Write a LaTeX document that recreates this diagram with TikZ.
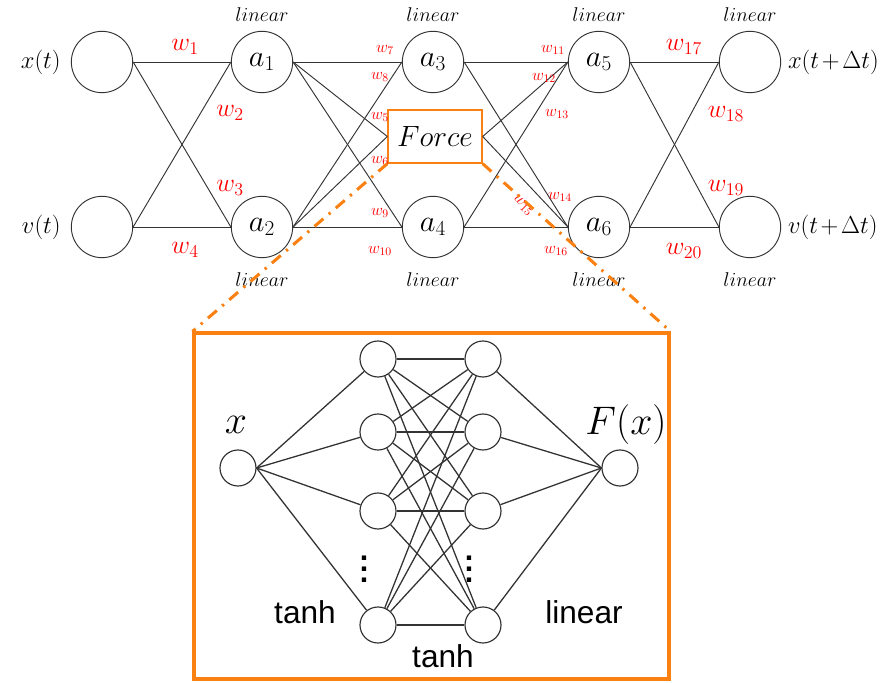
\documentclass[tikz,border=0pt]{standalone}
\usepackage{fix-cm}
\usepackage{amsmath}
\usepackage{fontspec}
\setsansfont{Liberation Sans}
\usetikzlibrary{positioning, calc}
\definecolor{wred}{HTML}{FF0000}
\definecolor{zoomorange}{HTML}{FA8012}
\definecolor{edgegrey}{HTML}{333333}
\newcommand{\bigvdots}{\vbox{\baselineskip=9.5pt \lineskiplimit=-20pt
  \hbox{.}\hbox{.}\hbox{.}}}

\begin{document}
\begin{tikzpicture}[x=0.03cm, y=-0.03cm,
    neuron/.style={circle, draw=edgegrey, line width=0.8pt, minimum size=1.84cm,
      inner sep=0pt, font=\fontsize{26}{30}\selectfont},
    unit/.style={circle, draw=edgegrey, line width=1pt, minimum size=1.08cm, inner sep=0pt},
    link/.style={draw=edgegrey, line width=0.8pt},
    thicklink/.style={draw=edgegrey, line width=1.1pt},
    bigw/.style={text=wred, font=\fontsize{22}{26}\selectfont},
    smallw/.style={text=wred, font=\fontsize{14}{17}\selectfont, inner sep=1pt},
    act/.style={font=\fontsize{17}{20}\selectfont},
    sig/.style={font=\fontsize{21}{25}\selectfont, inner sep=0pt},
    sanslab/.style={font=\sffamily\fontsize{27}{30}\selectfont},
    dotlab/.style={font=\sffamily\bfseries\fontsize{26}{30}\selectfont, inner sep=0pt},
    zoomline/.style={draw=zoomorange, line width=2.6pt,
      dash pattern=on 10pt off 6pt on 2pt off 6pt}]
  \useasboundingbox (0,0) rectangle (884,683);

  % outer network
  \node[neuron] (xin) at (102,62) {};
  \node[neuron] (vin) at (102,227) {};
  \node[neuron] (a1) at (262,62) {$a_1$};
  \node[neuron] (a2) at (262,227) {$a_2$};
  \node[neuron] (a3) at (433,62) {$a_3$};
  \node[neuron] (a4) at (433,227) {$a_4$};
  \node[draw=zoomorange, line width=1.2pt, minimum width=2.82cm, minimum height=1.59cm,
    inner sep=0pt, font=\fontsize{25}{29}\selectfont] (force) at (435,136.5) {$Force$};
  \node[neuron] (a5) at (599,62) {$a_5$};
  \node[neuron] (a6) at (599,227) {$a_6$};
  \node[neuron] (xout) at (750,62) {};
  \node[neuron] (vout) at (750,227) {};

  \node[sig, left=0.3cm of xin] (xlab) {$x(t)$};
  \node[sig, left=0.3cm of vin] (vlab) {$v(t)$};
  \node[sig, right=0.2cm of xout] (xnext) {$\medmuskip=2mu x(t+\Delta t)$};
  \node[sig, right=0.2cm of vout] (vnext) {$\medmuskip=2mu v(t+\Delta t)$};

  \foreach \x in {262,433,599,750} {
    \node[act] at (\x,15) {$linear$};
    \node[act] at (\x,280) {$linear$};
  }

  \foreach \s in {xin,vin}
    \foreach \t in {a1,a2} \draw[link] (\s.east) -- (\t.west);
  \foreach \s in {a1,a2}
    \foreach \t in {a3,force,a4} \draw[link] (\s.east) -- (\t.west);
  \foreach \s in {a3,force,a4}
    \foreach \t in {a5,a6} \draw[link] (\s.east) -- (\t.west);
  \foreach \s in {a5,a6}
    \foreach \t in {xout,vout} \draw[link] (\s.east) -- (\t.west);

  % weights
  \node[bigw] at (185,47) {$w_1$};
  \node[bigw] at (230,113) {$w_2$};
  \node[bigw] at (230,188) {$w_3$};
  \node[bigw] at (185,250) {$w_4$};
  \node[smallw] at (380,117) {$w_5$};
  \node[smallw] at (380,161) {$w_6$};
  \node[smallw] at (385,50) {$w_7$};
  \node[smallw] at (380,77) {$w_8$};
  \node[smallw] at (380,213) {$w_9$};
  \node[smallw] at (380,251) {$w_{10}$};
  \node[smallw] at (553,50) {$w_{11}$};
  \node[smallw] at (544,78) {$w_{12}$};
  \node[smallw] at (557,114) {$w_{13}$};
  \node[smallw] at (560,197) {$w_{14}$};
  \node[smallw, rotate=-45] at (523,205) {$w_{15}$};
  \node[smallw] at (556,251) {$w_{16}$};
  \node[bigw] at (684,47) {$w_{17}$};
  \node[bigw] at (726,114) {$w_{18}$};
  \node[bigw] at (726,188) {$w_{19}$};
  \node[bigw] at (684,251) {$w_{20}$};

  % zoomed force network
  \node[draw=zoomorange, line width=2.6pt, minimum width=14.25cm, minimum height=10.38cm,
    inner sep=0pt] (zoombox) at (431.5,506) {};
  \draw[zoomline] (force.south west) -- (zoombox.north west);
  \draw[zoomline] (force.south east) -- (zoombox.north east);

  \node[unit] (in) at (238,468) {};
  \node[unit] (out) at (620,468) {};
  \foreach \i/\y in {1/359,2/432,3/511,4/625} {
    \node[unit] (ha\i) at (378,\y) {};
    \node[unit] (hb\i) at (483,\y) {};
  }
  \foreach \i in {1,...,4} {
    \draw[thicklink] (in.east) -- (ha\i);
    \draw[thicklink] (hb\i) -- (out.west);
    \foreach \j in {1,...,4} \draw[thicklink] (ha\i) -- (hb\j);
  }

  \node[font=\fontsize{34}{38}\selectfont] (inlab) at (236,425) {$x$};
  \node[font=\fontsize{34}{38}\selectfont] (outlab) at (626,425) {$F(x)$};
  \node[dotlab] at (364,569) {\bigvdots};
  \node[dotlab] at (469,569) {\bigvdots};
  \node[sanslab] at (305,612) {tanh};
  \node[sanslab] at (443,656) {tanh};
  \node[sanslab] at (584,612) {linear};
\end{tikzpicture}
\end{document}
